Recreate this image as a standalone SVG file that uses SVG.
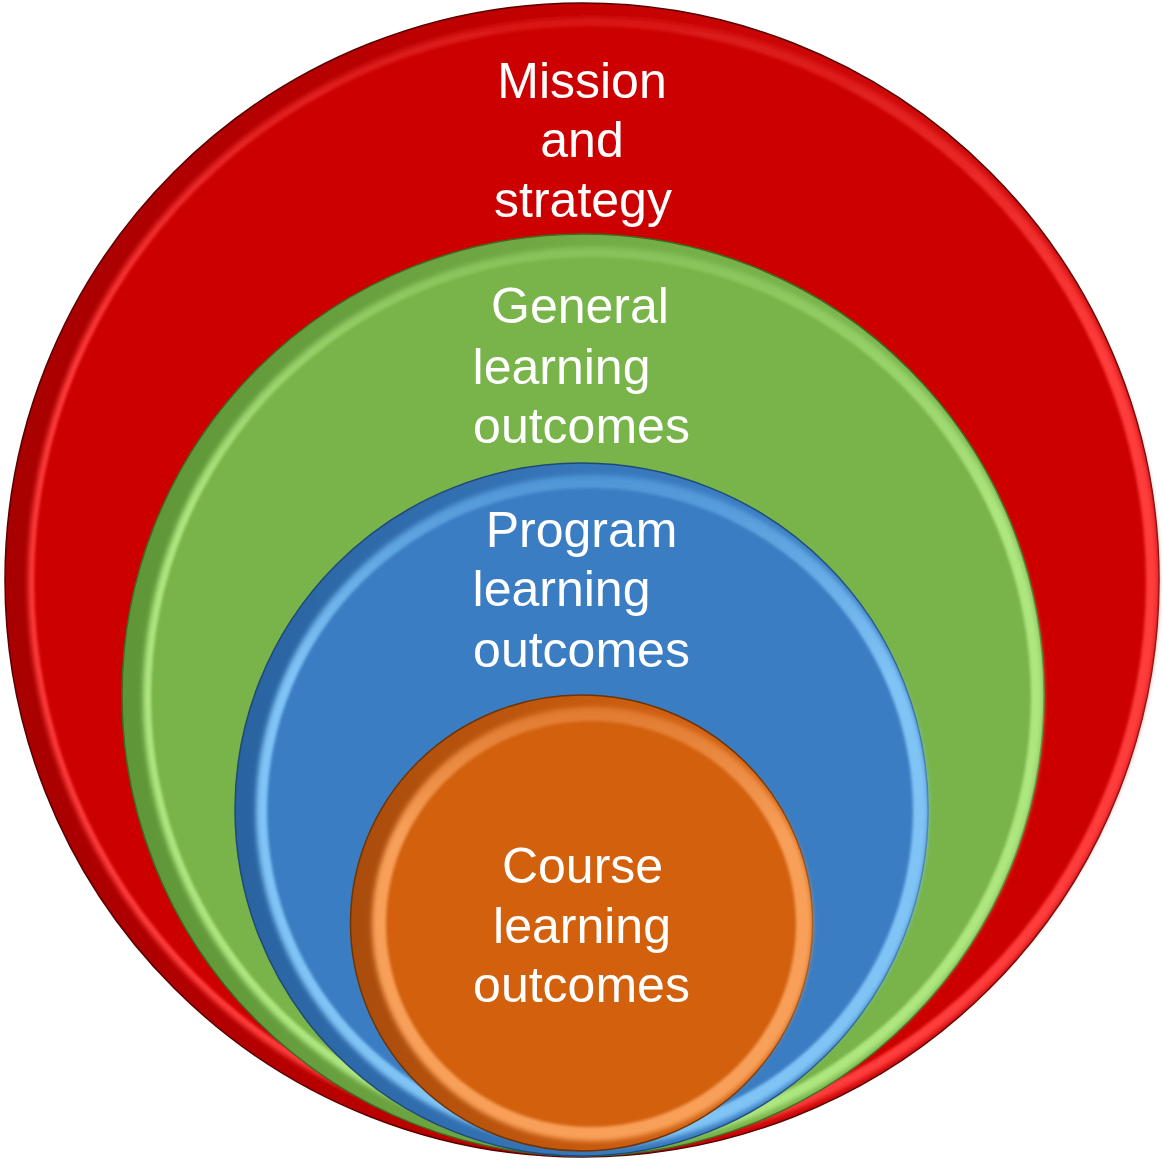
<svg xmlns="http://www.w3.org/2000/svg" width="1164" height="1160" viewBox="0 0 1164 1160">
<defs>
<filter id="soft" x="-10%" y="-10%" width="120%" height="120%"><feGaussianBlur stdDeviation="2.5"/></filter>
<filter id="soft2" x="-10%" y="-10%" width="120%" height="120%"><feGaussianBlur stdDeviation="1.5"/></filter>
<linearGradient id="rimRed" x1="0" y1="0" x2="1" y2="0"><stop offset="0" stop-color="#a80000"/><stop offset="0.5" stop-color="#c40000"/><stop offset="1" stop-color="#d81010"/></linearGradient>
<linearGradient id="rimGreen" x1="0" y1="0" x2="1" y2="0"><stop offset="0" stop-color="#5f9638"/><stop offset="0.5" stop-color="#71ab45"/><stop offset="1" stop-color="#80bd52"/></linearGradient>
<linearGradient id="rimBlue" x1="0" y1="0" x2="1" y2="0"><stop offset="0" stop-color="#2a63a0"/><stop offset="0.5" stop-color="#3676ba"/><stop offset="1" stop-color="#4287cc"/></linearGradient>
<linearGradient id="rimOrange" x1="0" y1="0" x2="1" y2="0"><stop offset="0" stop-color="#a94c0c"/><stop offset="0.5" stop-color="#c65a0e"/><stop offset="1" stop-color="#dc6a16"/></linearGradient>
<linearGradient id="hlRed" x1="0" y1="0" x2="0" y2="1"><stop offset="0" stop-color="#d81818"/><stop offset="0.3" stop-color="#ff3c3c"/><stop offset="1" stop-color="#ff3c3c"/></linearGradient>
<linearGradient id="hlGreen" x1="0" y1="0" x2="0" y2="1"><stop offset="0" stop-color="#86c25a"/><stop offset="0.3" stop-color="#aee680"/><stop offset="1" stop-color="#aee680"/></linearGradient>
<linearGradient id="hlBlue" x1="0" y1="0" x2="0" y2="1"><stop offset="0" stop-color="#4f95d6"/><stop offset="0.3" stop-color="#80c4f6"/><stop offset="1" stop-color="#80c4f6"/></linearGradient>
<linearGradient id="hlOrange" x1="0" y1="0" x2="0" y2="1"><stop offset="0" stop-color="#e07a30"/><stop offset="0.3" stop-color="#f8a05a"/><stop offset="1" stop-color="#f8a05a"/></linearGradient>
</defs>
<style>
.lbl{font-family:"Liberation Sans",Arial,sans-serif;font-size:50px;fill:#ffffff;text-anchor:middle}
</style>
<g id="connectors"/>
<g id="node-mission">
<circle cx="582" cy="580" r="577" fill="url(#rimRed)" stroke="#5a0000" stroke-width="1.5"/>
<circle cx="593" cy="582" r="565" fill="url(#hlRed)" filter="url(#soft)"/>
<circle cx="590" cy="582" r="556" fill="#cc0000" filter="url(#soft2)"/>
<text class="lbl" x="582" y="98">Mission</text>
<text class="lbl" x="582" y="157">and</text>
<text class="lbl" x="583" y="217">strategy</text>
</g>
<g id="node-general">
<circle cx="583" cy="695" r="461" fill="url(#rimGreen)" stroke="#3f6a22" stroke-width="1.5"/>
<circle cx="593" cy="697" r="450" fill="url(#hlGreen)" filter="url(#soft)"/>
<circle cx="591" cy="697" r="440" fill="#78b44a" filter="url(#soft2)"/>
<text class="lbl" x="580" y="323">General</text>
<text class="lbl" x="561.5" y="384">learning</text>
<text class="lbl" x="581.5" y="443">outcomes</text>
</g>
<g id="node-program">
<circle cx="581.5" cy="809.5" r="346.5" fill="url(#rimBlue)" stroke="#1f4a78" stroke-width="1.5"/>
<circle cx="592" cy="811" r="336" fill="url(#hlBlue)" filter="url(#soft)"/>
<circle cx="590" cy="811" r="323" fill="#3a7dc2" filter="url(#soft2)"/>
<text class="lbl" x="581.5" y="547">Program</text>
<text class="lbl" x="561.5" y="606">learning</text>
<text class="lbl" x="581.5" y="667">outcomes</text>
</g>
<g id="node-course">
<ellipse cx="581.5" cy="923" rx="231" ry="228" fill="url(#rimOrange)" stroke="#6e3406" stroke-width="1.5"/>
<ellipse cx="592" cy="924" rx="220" ry="217" fill="url(#hlOrange)" filter="url(#soft)"/>
<ellipse cx="591" cy="924" rx="205" ry="203" fill="#d2610f" filter="url(#soft2)"/>
<text class="lbl" x="582.5" y="883">Course</text>
<text class="lbl" x="582" y="943">learning</text>
<text class="lbl" x="581.5" y="1002">outcomes</text>
</g>
</svg>
